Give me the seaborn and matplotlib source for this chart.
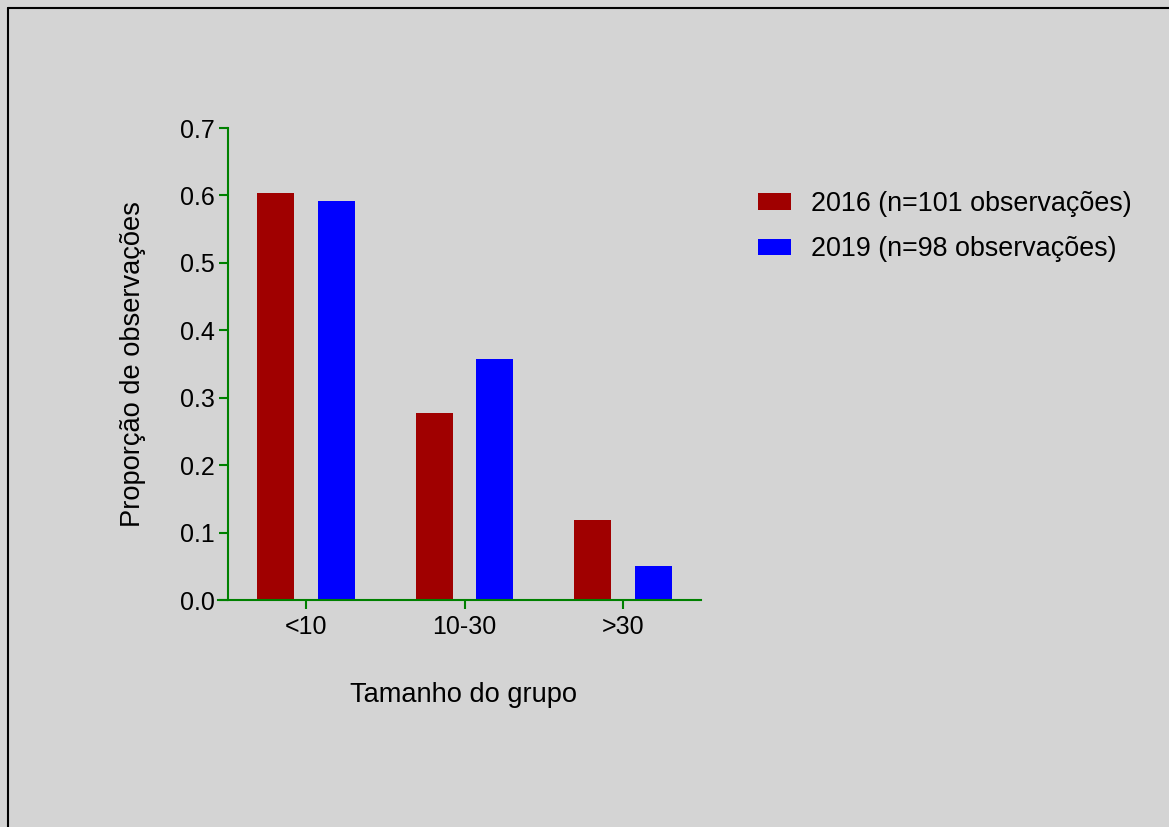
import matplotlib
matplotlib.use("Agg")
import matplotlib.pyplot as plt
import seaborn as sns
import pandas as pd
from matplotlib.patches import Patch
from matplotlib.lines import Line2D

categorias = ["<10", "10-30", ">30"]
serie_2016 = [0.604, 0.277, 0.119]
serie_2019 = [0.592, 0.357, 0.051]
rotulos = ["2016 (n=101 observações)", "2019 (n=98 observações)"]
yticks = [0.0, 0.1, 0.2, 0.3, 0.4, 0.5, 0.6, 0.7]

bg = "#d4d4d4"
cores = ["#a00000", "#0000ff"]
verde = "#008000"

sns.set_style("white", rc={"axes.facecolor": bg, "figure.facecolor": bg})
plt.rcParams["font.family"] = ["Liberation Sans", "DejaVu Sans"]
plt.rcParams["text.color"] = "black"
plt.rcParams["axes.labelcolor"] = "black"

df = pd.DataFrame({
    "grupo": categorias * 2,
    "prop": serie_2016 + serie_2019,
    "ano": [rotulos[0]] * 3 + [rotulos[1]] * 3,
})

W, H = 1169, 827
fig = plt.figure(figsize=(W / 100, H / 100), dpi=100, facecolor=bg)
ax = fig.add_axes([218 / W, 1 - 600 / H, (701 - 218) / W, (600 - 128) / H])
ax.set_facecolor(bg)

sns.barplot(data=df, x="grupo", y="prop", hue="ano", order=categorias,
            hue_order=rotulos, palette=cores, width=0.76, gap=0.387,
            linewidth=0, saturation=1, ax=ax, legend=False)

unit = 158.5
x_left = (218 - 306) / unit
x_right = (701 - 306) / unit
ax.set_xlim(x_left, x_right)
ax.set_ylim(0, 0.7)
ax.set_yticks(yticks)
ax.set_yticklabels([f"{v:.1f}" for v in yticks])

for s in ["top", "right"]:
    ax.spines[s].set_visible(False)
for s in ["left", "bottom"]:
    ax.spines[s].set_color(verde)
    ax.spines[s].set_linewidth(1.5)
ax.spines["left"].set_position(("data", (228 - 306) / unit))

ax.tick_params(axis="both", colors=verde, length=6.5, width=1.5,
               labelsize=18, labelcolor="black", direction="out",
               bottom=True, left=True)
ax.tick_params(axis="y", pad=3)
ax.tick_params(axis="x", pad=4)

ax.set_xlabel("Tamanho do grupo", fontsize=19.6, color="black")
ax.set_ylabel("Proporção de observações", fontsize=19.6, color="black")
ax.xaxis.set_label_coords((464 - 218) / (701 - 218), (600 - 682) / 472)
ax.yaxis.set_label_coords((146 - 218) / (701 - 218), 0.5)

handles = [Patch(facecolor=c, edgecolor="none") for c in cores]
fig.legend(handles, rotulos, loc="upper left",
           bbox_to_anchor=(758 / W, 1 - 191 / H), frameon=False,
           fontsize=19.4, handlelength=1.22, handleheight=0.56,
           handletextpad=0.75, labelspacing=0.72, borderpad=0,
           borderaxespad=0, labelcolor="black")

# figure border (top and left edges visible)
fig.add_artist(Line2D([8 / W, 8 / W], [1 - 8 / H, 0], transform=fig.transFigure,
                      color="black", linewidth=1.5))
fig.add_artist(Line2D([8 / W, 1], [1 - 8 / H, 1 - 8 / H], transform=fig.transFigure,
                      color="black", linewidth=1.5))

fig.savefig("out.png", dpi=100, facecolor=bg)
